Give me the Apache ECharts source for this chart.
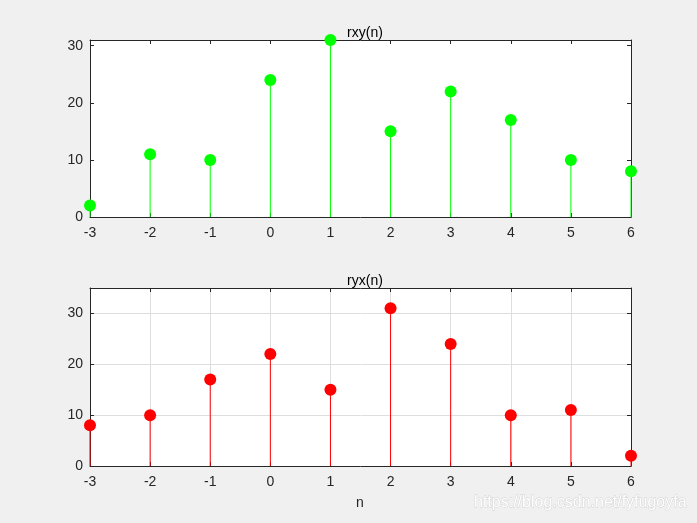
<!DOCTYPE html>
<html><head><meta charset="utf-8">
<script src="https://cdn.jsdelivr.net/npm/echarts@6/dist/echarts.min.js"></script>
<style>html,body{margin:0;padding:0;background:#f0f0f0}#c{width:697px;height:523px}</style>
</head><body><div id="c"></div>
<script>
const nValues = [-3, -2, -1, 0, 1, 2, 3, 4, 5, 6];
const rxy = [2, 11, 10, 24, 31, 15, 22, 17, 10, 8];
const ryx = [8, 10, 17, 22, 15, 31, 24, 10, 11, 2];
const topTitle = 'rxy(n)';
const bottomTitle = 'ryx(n)';
const xLabel = 'n';
const watermark = 'https://blog.csdn.net/fyfugoyfa';

const FONT = '"Liberation Sans", Arial, sans-serif';
const AX = '#262626';

function pairs(ys){ return nValues.map((x,i)=>[x, ys[i]]); }

function xAxes(gi, showGrid){
  return [
    {gridIndex:gi, type:'value', min:-3, max:6, interval:1, position:'bottom',
     axisLine:{onZero:false, lineStyle:{color:AX, width:1}},
     axisTick:{inside:true, length:4, lineStyle:{color:AX}},
     axisLabel:{color:AX, fontSize:14, fontFamily:FONT, margin:9},
     splitLine:{show:showGrid, lineStyle:{color:'#dedede', width:1}}},
    {gridIndex:gi, type:'value', min:-3, max:6, interval:1, position:'top',
     axisLine:{onZero:false, lineStyle:{color:AX, width:1}},
     axisTick:{inside:true, length:4, lineStyle:{color:AX}},
     axisLabel:{show:false}, splitLine:{show:false}}
  ];
}
function yAxes(gi, max, showGrid){
  return [
    {gridIndex:gi, type:'value', min:0, max:max, interval:10, position:'left',
     axisLine:{show:true, onZero:false, lineStyle:{color:AX, width:1}},
     axisTick:{show:true, inside:true, length:4, lineStyle:{color:AX}},
     axisLabel:{color:AX, fontSize:14, fontFamily:FONT, margin:7, showMaxLabel:false,
       formatter:v=> (v%10===0? String(v):'')},
     splitLine:{show:showGrid, lineStyle:{color:'#dedede', width:1}}},
    {gridIndex:gi, type:'value', min:0, max:max, interval:10, position:'right',
     axisLine:{show:true, onZero:false, lineStyle:{color:AX, width:1}},
     axisTick:{show:true, inside:true, length:4, lineStyle:{color:AX}},
     axisLabel:{show:false}, splitLine:{show:false}}
  ];
}
function stems(gi, ys, color){
  return [{
    type:'custom', xAxisIndex:gi*2, yAxisIndex:gi*2, clip:false,
    data: pairs(ys),
    renderItem:(params, api)=>{
      const p0 = api.coord([api.value(0), 0]);
      const p1 = api.coord([api.value(0), api.value(1)]);
      return {type:'line', shape:{x1:p0[0], y1:p0[1], x2:p1[0], y2:p1[1]},
        style:{stroke:color, lineWidth:1}};
    },
    silent:true, z:3
  },{
    type:'scatter', xAxisIndex:gi*2, yAxisIndex:gi*2, clip:false,
    data: pairs(ys), symbol:'circle', symbolSize:12,
    itemStyle:{color:color, opacity:1}, silent:true, z:4
  }];
}

const chart = echarts.init(document.getElementById('c'), null, {renderer:'canvas'});
chart.setOption({
  backgroundColor:'#f0f0f0',
  animation:false,
  title:[
    {text:topTitle, left:360, top:21, textAlign:'center',
     textStyle:{fontSize:14, fontWeight:'normal', color:'#000', fontFamily:FONT}},
    {text:bottomTitle, left:360, top:269, textAlign:'center',
     textStyle:{fontSize:14, fontWeight:'normal', color:'#000', fontFamily:FONT}}
  ],
  grid:[
    {left:90, right:66, top:40, height:177, backgroundColor:'#fff', show:true, borderWidth:0},
    {left:90, right:66, top:288, height:178, backgroundColor:'#fff', show:true, borderWidth:0}
  ],
  xAxis:[...xAxes(0,false), ...xAxes(1,true)],
  yAxis:[...yAxes(0,31,false), ...yAxes(1,35,true)],
  series:[...stems(0, rxy, '#00ff00'), ...stems(1, ryx, '#ff0000')],
  graphic:[
    {type:'text', left:356, top:496, style:{text:xLabel, font:'14px '+FONT, fill:AX}},
    {type:'text', right:10, top:494, style:{text:watermark, font:'16px '+FONT, fill:'#ffffff',
      stroke:'#cfcfcf', lineWidth:0.8}}
  ]
});
</script></body></html>
